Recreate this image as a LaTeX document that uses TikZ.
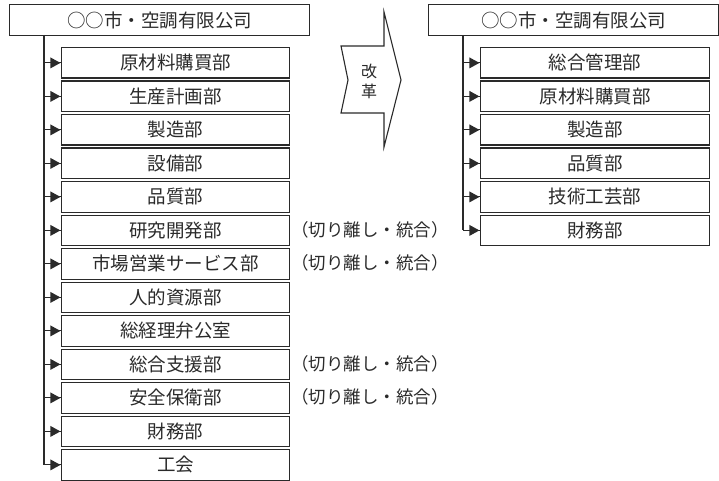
\documentclass[tikz,border=0pt]{standalone}
\usepackage{fontspec}
\setmainfont{Noto Sans CJK JP}
\usetikzlibrary{arrows.meta}
\definecolor{ink}{HTML}{2A2A2A}
\tikzset{
  x=1pt,y=-1pt,
  deptbox/.style={draw=ink,line width=1.3pt,minimum width=228pt,minimum height=30.5pt,inner sep=0pt,anchor=north west,font=\fontsize{18.5}{20}\selectfont,text=ink},
  headbox/.style={draw=ink,line width=1.3pt,minimum height=31pt,inner sep=0pt,anchor=north west,font=\fontsize{18.5}{20}\selectfont,text=ink},
  link/.style={draw=ink,line width=1.1pt},
  tiphead/.style={fill=ink},
  note/.style={anchor=center,font=\fontsize{17.5}{20}\selectfont,text=ink,inner sep=0pt},
}
\begin{document}
\begin{tikzpicture}
\useasboundingbox (0,0) rectangle (719,481);
% left header
\node[headbox,minimum width=300pt] (L) at (9,4) {○○市・空調有限公司};
\foreach \t [count=\i from 0] in {原材料購買部,生産計画部,製造部,設備部,品質部,研究開発部,市場営業サービス部,人的資源部,総経理弁公室,総合支援部,安全保衛部,財務部,工会}{
  \node[deptbox] (l\i) at (61,47+33.5*\i) {\t};
}
\coordinate (ltop) at (44,35);
\foreach \i in {0,...,12}{
  \draw[link] (ltop |- l\i.west) -- (l\i.west);
  \fill[tiphead] ([xshift=-0.6pt]l\i.west) -- ++(-10,-5.5) -- ++(0,11) -- cycle;
}
\draw[link] (ltop) -- (ltop |- l12.west);
% notes
\foreach \i in {5,6,9,10}{
  \node[note] (n\i) at (370, 62.25+33.5*\i) {（切り離し・統合）};
}
% big arrow
\draw[ink,line width=1.1pt,fill=white] (384,12) -- (401,80) -- (384,147) -- (384,113) -- (341,113) -- (348,80) -- (341,46) -- (384,46) -- cycle;
\node[font=\fontsize{16}{18}\selectfont,text=ink,inner sep=0pt] (ka) at (369,71) {改};
\node[font=\fontsize{16}{18}\selectfont,text=ink,inner sep=0pt] (ku) at (369,91) {革};
% right header
\node[headbox,minimum width=290pt] (R) at (428,4) {○○市・空調有限公司};
\foreach \t [count=\i from 0] in {総合管理部,原材料購買部,製造部,品質部,技術工芸部,財務部}{
  \node[deptbox,minimum width=229pt] (r\i) at (480,47+33.5*\i) {\t};
}
\coordinate (rtop) at (463,35);
\foreach \i in {0,...,5}{
  \draw[link] (rtop |- r\i.west) -- (r\i.west);
  \fill[tiphead] ([xshift=-0.6pt]r\i.west) -- ++(-10,-5.5) -- ++(0,11) -- cycle;
}
\draw[link] (rtop) -- (rtop |- r5.west);
\end{tikzpicture}
\end{document}
